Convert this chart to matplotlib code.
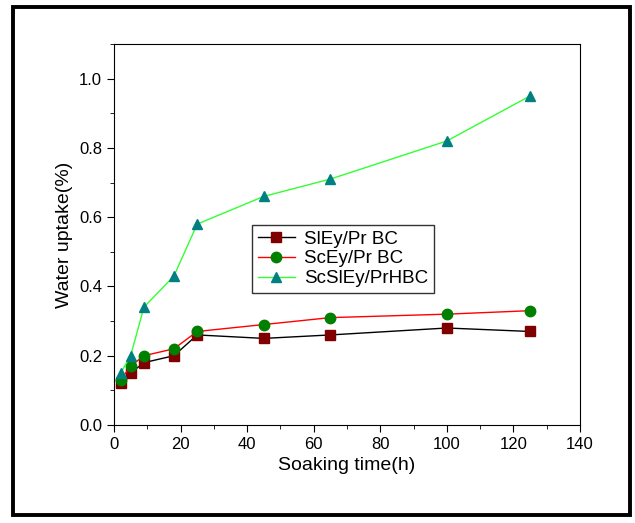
import matplotlib.pyplot as plt
from matplotlib.patches import Rectangle
from matplotlib.ticker import MultipleLocator

plt.rcParams['font.family'] = ['Liberation Sans', 'DejaVu Sans']

hours = [2, 5, 9, 18, 25, 45, 65, 100, 125]
sley_pr = [0.12, 0.15, 0.18, 0.20, 0.26, 0.25, 0.26, 0.28, 0.27]
scey_pr = [0.13, 0.17, 0.20, 0.22, 0.27, 0.29, 0.31, 0.32, 0.33]
scsley_prh = [0.15, 0.20, 0.34, 0.43, 0.58, 0.66, 0.71, 0.82, 0.95]

fig = plt.figure(figsize=(6.35, 5.23), dpi=100)
ax = fig.add_axes([0.1795, 0.1874, 0.7339, 0.7285])

# outer frame around the whole figure
fig.patches.append(Rectangle((13 / 635, 1 - 515 / 523), 617 / 635, 508 / 523,
                             transform=fig.transFigure, fill=False,
                             edgecolor='black', linewidth=2.8))

ax.plot(hours, sley_pr, color='black', lw=1, marker='s', ms=6.5,
        mfc='#800000', mec='#800000', label='SlEy/Pr BC')
ax.plot(hours, scey_pr, color='red', lw=1, marker='o', ms=7.5,
        mfc='#008000', mec='#008000', label='ScEy/Pr BC')
ax.plot(hours, scsley_prh, color='#33ff33', lw=1, marker='^', ms=7.5,
        mfc='#008080', mec='#008080', label='ScSlEy/PrHBC')

ax.set_xlim(0, 140)
ax.set_ylim(0, 1.1)
ax.xaxis.set_major_locator(MultipleLocator(20))
ax.xaxis.set_minor_locator(MultipleLocator(10))
ax.yaxis.set_major_locator(MultipleLocator(0.2))
ax.yaxis.set_minor_locator(MultipleLocator(0.1))
ax.yaxis.set_major_formatter(plt.FormatStrFormatter('%.1f'))
ax.tick_params(which='both', direction='out', labelsize=12)
ax.tick_params(which='major', length=5)
ax.tick_params(which='minor', length=3)

ax.set_xlabel('Soaking time(h)', fontsize=14)
ax.set_ylabel('Water uptake(%)', fontsize=14)

leg = ax.legend(loc='upper left', bbox_to_anchor=(0.276, 0.55), fontsize=13.5,
                frameon=True, fancybox=False, edgecolor='black',
                handlelength=2.0, borderpad=0.3, labelspacing=0.15,
                handletextpad=0.5)
leg.get_frame().set_linewidth(1)

fig.savefig('out.png', dpi=100)
